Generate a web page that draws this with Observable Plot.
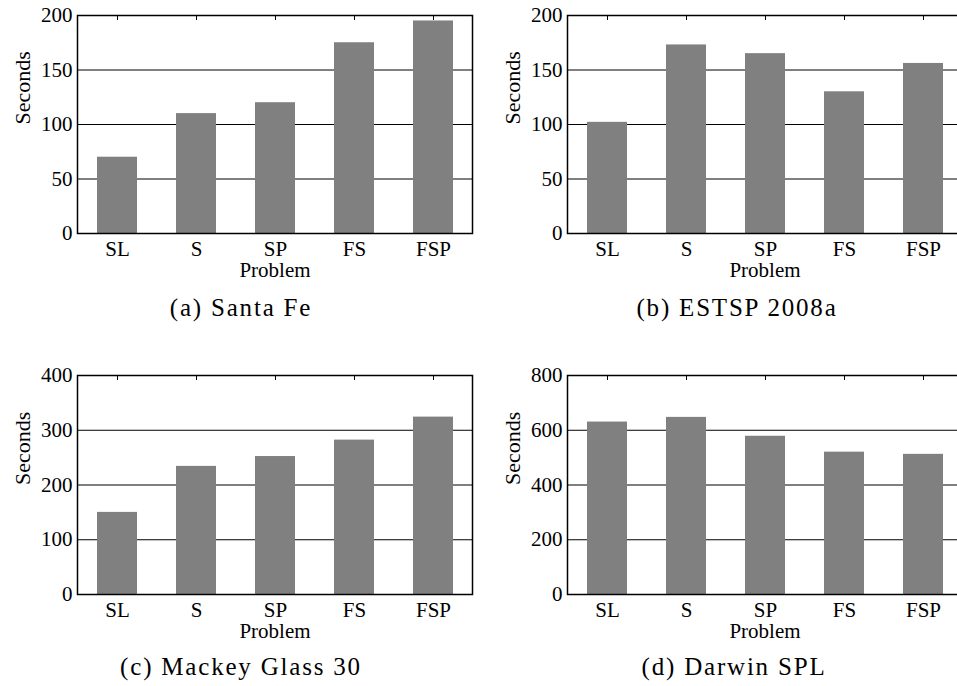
<!DOCTYPE html>
<html>
<head>
<meta charset="utf-8">
<script src="https://cdn.jsdelivr.net/npm/d3@7"></script>
<script src="https://cdn.jsdelivr.net/npm/@observablehq/plot@0.6"></script>
<style>
  html, body { margin: 0; padding: 0; background: #fff; width: 957px; height: 686px; overflow: hidden; }
  #root { position: relative; width: 957px; height: 686px; }
  .panel { position: absolute; }
  .cap { position: absolute; font-family: "Liberation Serif", serif; font-size: 25px; letter-spacing: 1.8px; line-height: 25px; white-space: nowrap; transform: translateX(-50%); color: #000; }
</style>
</head>
<body>
<div id="root"></div>
<script>
const categories = ["SL", "S", "SP", "FS", "FSP"];
const santaFe = [70, 110, 120, 175, 195];
const estsp2008a = [102, 173, 165, 130, 156];
const mackeyGlass30 = [150, 234, 252, 282, 324];
const darwinSPL = [630, 647, 578, 520, 512];
const ticks200 = [0, 50, 100, 150, 200];
const ticks400 = [0, 100, 200, 300, 400];
const ticks800 = [0, 200, 400, 600, 800];
const captions = ["(a) Santa Fe", "(b) ESTSP 2008a", "(c) Mackey Glass 30", "(d) Darwin SPL"];
const xLabel = "Problem";
const yLabel = "Seconds";

const panels = [
  {values: santaFe, ticks: ticks200, left: 0, top: 0, ml: 77, width: 478, mt: 15, mb: 47, cap: captions[0], capX: 241, capTop: 295},
  {values: estsp2008a, ticks: ticks200, left: 480, top: 0, ml: 87, width: 489, mt: 15, mb: 47, cap: captions[1], capX: 737, capTop: 295},
  {values: mackeyGlass30, ticks: ticks400, left: 0, top: 360, ml: 77, width: 478, mt: 15, mb: 46, cap: captions[2], capX: 241, capTop: 654},
  {values: darwinSPL, ticks: ticks800, left: 480, top: 360, ml: 87, width: 489, mt: 15, mb: 46, cap: captions[3], capX: 734, capTop: 654}
];

const root = document.getElementById("root");
for (const p of panels) {
  const data = categories.map((c, i) => ({cat: c, v: p.values[i]}));
  const chart = Plot.plot({
    width: p.width,
    height: 280,
    marginLeft: p.ml,
    marginRight: p.width - p.ml - 395,
    marginTop: p.mt,
    marginBottom: p.mb,
    style: {fontFamily: "Liberation Serif, serif", fontSize: "21px", background: "white", color: "black", overflow: "visible"},
    x: {domain: categories, paddingInner: 0.5, paddingOuter: 0.25, label: null},
    y: {domain: [p.ticks[0], p.ticks[p.ticks.length - 1]], label: null},
    marks: [
      Plot.gridY({ticks: p.ticks, stroke: "#000", strokeOpacity: 1, strokeWidth: 1}),
      Plot.axisX({anchor: "top", tickSize: -4, tickFormat: () => "", label: null, stroke: "#000"}),
      Plot.barY(data, {x: "cat", y: "v", fill: "#808080"}),
      Plot.frame({stroke: "#000", strokeWidth: 1.5}),
      Plot.axisY({ticks: p.ticks, tickSize: 0, tickPadding: 5, fontSize: 21, label: null}),
      Plot.axisX({anchor: "bottom", tickSize: 0, tickPadding: 8, fontSize: 21, label: null}),
      Plot.text([xLabel], {frameAnchor: "bottom", lineAnchor: "middle", dy: 37, fontSize: 21, fill: "#000"}),
      Plot.text([yLabel], {frameAnchor: "left", dx: -55, rotate: -90, fontSize: 22, fill: "#000"})
    ]
  });
  chart.classList.add("panel");
  chart.style.left = p.left + "px";
  chart.style.top = p.top + "px";
  chart.style.position = "absolute";
  root.appendChild(chart);
  const cap = document.createElement("div");
  cap.className = "cap";
  cap.textContent = p.cap;
  cap.style.left = p.capX + "px";
  cap.style.top = p.capTop + "px";
  root.appendChild(cap);
}
</script>
</body>
</html>
